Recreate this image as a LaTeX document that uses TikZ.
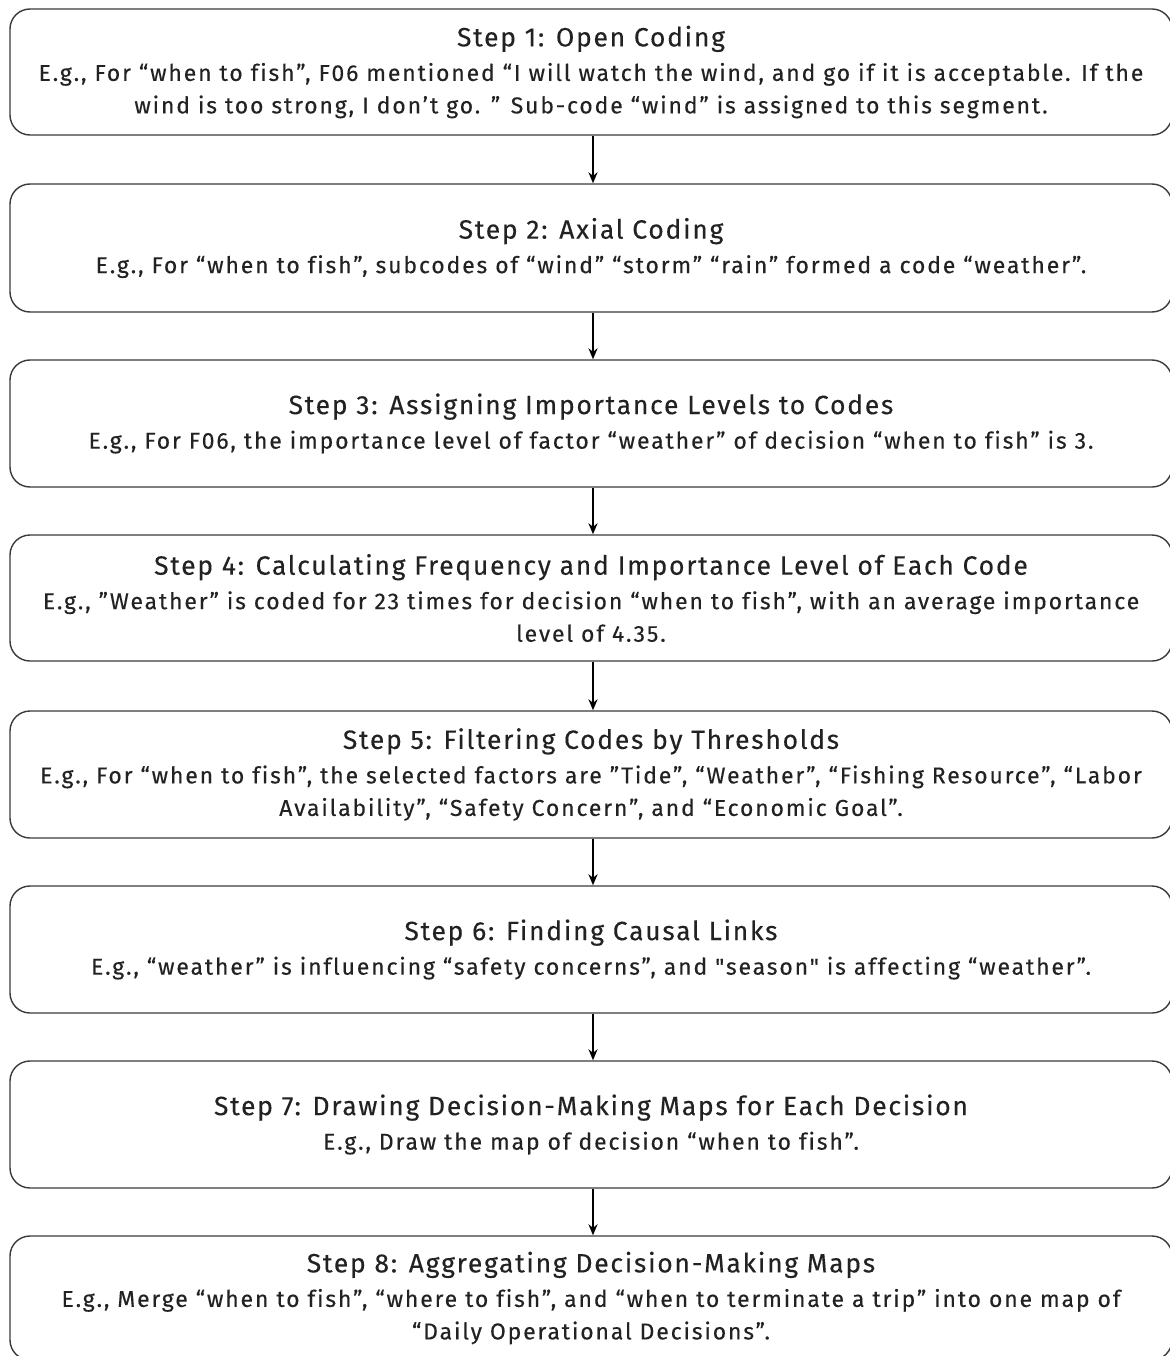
\documentclass[tikz,border=0pt]{standalone}
\usepackage{fontspec}
\newfontfamily\bodyfont{Fira Sans}[Ligatures=NoCommon, LetterSpace=8, FakeBold=0.25]
\newfontfamily\titlefont{Fira Sans}[Ligatures=NoCommon, LetterSpace=6.5, FakeBold=0.25]
\usetikzlibrary{arrows.meta}
\definecolor{boxline}{HTML}{3A3A3A}
\definecolor{inktext}{HTML}{222222}
\newcommand{\steptitle}[1]{{\titlefont\fontsize{26.5}{35}\selectfont #1}}
\tikzset{
  x=1pt, y=-1pt,
  stepbox/.style={draw=boxline, line width=1.4pt, rounded corners=20pt,
    minimum width=1162pt, inner sep=0pt, align=center, text=inktext,
    font=\bodyfont\fontsize{23}{32.5}\selectfont},
  flow/.style={line width=2pt, black, -{Stealth[length=11pt,width=9pt]}}
}
\begin{document}
\begin{tikzpicture}
\useasboundingbox (0,0) rectangle (1169,1356);
\node[stepbox, minimum height=126pt] (s1) at (591,72)
  {\steptitle{Step 1: Open Coding}\\[2pt]
   E.g., For “when to fish”, F06 mentioned “I will watch the wind, and go if it is acceptable. If the\\
   wind is too strong, I don’t go. ” Sub-code “wind” is assigned to this segment.};
\node[stepbox, minimum height=128pt] (s2) at (591,248)
  {\steptitle{Step 2: Axial Coding}\\[2pt]
   E.g., For “when to fish”, subcodes of “wind” “storm” “rain” formed a code “weather”.};
\node[stepbox, minimum height=127pt] (s3) at (591,423.5)
  {\steptitle{Step 3: Assigning Importance Levels to Codes}\\[2pt]
   E.g., For F06, the importance level of factor “weather” of decision “when to fish” is 3.};
\node[stepbox, minimum height=126pt] (s4) at (591,598)
  {\steptitle{Step 4: Calculating Frequency and Importance Level of Each Code}\\[2pt]
   E.g., ”Weather” is coded for 23 times for decision “when to fish”, with an average importance\\
   level of 4.35.};
\node[stepbox, minimum height=127pt] (s5) at (591,774.5)
  {\steptitle{Step 5: Filtering Codes by Thresholds}\\[2pt]
   E.g., For “when to fish”, the selected factors are ”Tide”, “Weather”, “Fishing Resource”, “Labor\\
   Availability”, “Safety Concern”, and “Economic Goal”.};
\node[stepbox, minimum height=127pt] (s6) at (591,949.5)
  {\steptitle{Step 6: Finding Causal Links}\\[2pt]
   E.g., “weather” is influencing “safety concerns”, and "season" is affecting “weather”.};
\node[stepbox, minimum height=127pt] (s7) at (591,1124.5)
  {\steptitle{Step 7: Drawing Decision-Making Maps for Each Decision}\\[2pt]
   E.g., Draw the map of decision “when to fish”.};
\node[stepbox, minimum height=124pt] (s8) at (591,1298)
  {\steptitle{Step 8: Aggregating Decision-Making Maps}\\[2pt]
   E.g., Merge “when to fish”, “where to fish”, and “when to terminate a trip” into one map of\\
   “Daily Operational Decisions”.};
\foreach \a/\b in {s1/s2,s2/s3,s3/s4,s4/s5,s5/s6,s6/s7,s7/s8}
  \draw[flow] ([xshift=2pt]\a.south) -- ([xshift=2pt]\b.north);
\end{tikzpicture}
\end{document}
